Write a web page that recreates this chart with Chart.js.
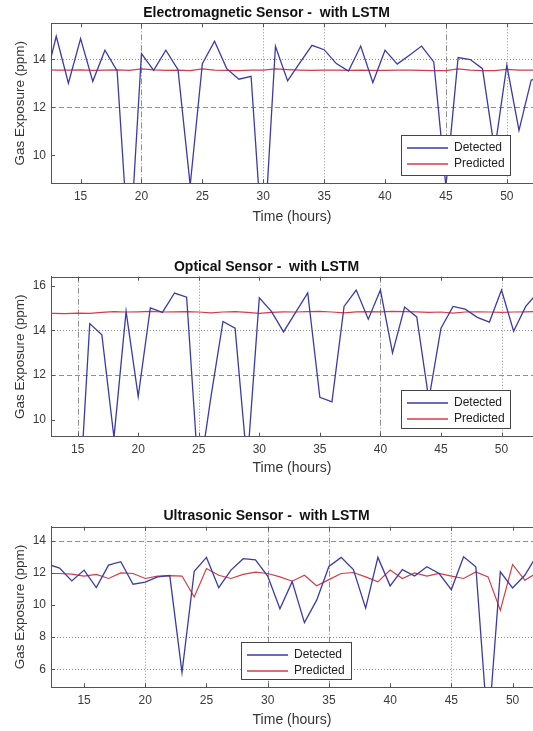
<!DOCTYPE html>
<html>
<head>
<meta charset="utf-8">
<title>Gas Exposure - with LSTM</title>
<script src="https://cdn.jsdelivr.net/npm/chart.js@4"></script>
<style>
  body { margin: 0; background: #fff; }
  .panel { position: absolute; left: 0; width: 533px; }
  canvas { display: block; }
</style>
</head>
<body>
<div class="panel" style="top:0;height:250px"><canvas id="em" width="533" height="250"></canvas></div>
<div class="panel" style="top:250px;height:250px"><canvas id="opt" width="533" height="250"></canvas></div>
<div class="panel" style="top:500px;height:231px"><canvas id="ultra" width="533" height="231"></canvas></div>
<script>
// hourly samples, 12 .. 53
const hours = [12, 13, 14, 15, 16, 17, 18, 19, 20, 21, 22, 23, 24, 25, 26, 27, 28, 29, 30, 31, 32,
  33, 34, 35, 36, 37, 38, 39, 40, 41, 42, 43, 44, 45, 46, 47, 48, 49, 50, 51, 52, 53];

const emDetected = [12.9, 14.96, 13.0, 14.86, 13.08, 14.38, 13.51, 5.7, 14.24, 13.54, 14.38, 13.57, 8.75, 13.82,
  14.75, 13.61, 13.17, 13.29, 5.8, 14.54, 13.1, 13.85, 14.58, 14.4, 13.82, 13.51, 14.55, 13.03, 14.38, 13.8,
  14.17, 14.55, 13.89, 8.7, 14.07, 13.99, 13.61, 10.2, 13.75, 11.04, 13.13, 13.3];
const emPredicted = [13.56, 13.55, 13.55, 13.56, 13.54, 13.55, 13.56, 13.54, 13.6, 13.56, 13.54, 13.55, 13.53, 13.6,
  13.55, 13.54, 13.53, 13.55, 13.55, 13.6, 13.57, 13.55, 13.54, 13.55, 13.55, 13.54, 13.55, 13.54, 13.54, 13.55,
  13.55, 13.54, 13.53, 13.53, 13.6, 13.55, 13.53, 13.53, 13.58, 13.55, 13.55, 13.56];

const optDetected = [7.5, 7.0, 6.5, 5.0, 14.3, 13.8, 9.2, 14.85, 11.04, 15.0, 14.8, 15.67, 15.48, 7.3,
  11.0, 14.4, 14.1, 8.0, 15.45, 14.85, 13.93, 14.8, 15.67, 11.0, 10.8, 15.07, 15.8, 14.5, 15.8, 12.99,
  15.04, 14.6, 10.9, 14.1, 15.07, 14.95, 14.58, 14.37, 15.8, 13.96, 15.07, 15.7];
const optPredicted = [14.78, 14.76, 14.75, 14.77, 14.76, 14.8, 14.84, 14.82, 14.83, 14.85, 14.82, 14.83, 14.84, 14.82,
  14.78, 14.82, 14.84, 14.8, 14.76, 14.8, 14.83, 14.82, 14.84, 14.85, 14.82, 14.78, 14.83, 14.84, 14.83, 14.85,
  14.84, 14.83, 14.8, 14.82, 14.77, 14.82, 14.83, 14.82, 14.8, 14.82, 14.83, 14.84];

const usDetected = [12.55, 12.3, 11.5, 12.17, 11.08, 12.48, 12.69, 11.29, 11.42, 11.75, 11.83, 5.81, 12.1, 12.96,
  11.08, 12.17, 12.88, 12.8, 11.8, 9.77, 11.45, 8.9, 10.3, 12.4, 12.96, 12.2, 9.8, 12.96, 11.19, 12.2,
  11.8, 12.38, 11.96, 10.96, 13.0, 12.38, 2.0, 12.06, 11.06, 11.85, 13.1, 13.0];
const usPredicted = [11.96, 11.96, 11.92, 11.8, 11.9, 11.65, 12.0, 11.96, 11.65, 11.8, 11.83, 11.8, 10.5, 12.27,
  11.85, 11.65, 11.9, 12.04, 11.96, 11.75, 11.48, 11.85, 11.2, 11.58, 11.96, 12.02, 11.75, 11.44, 12.17, 11.65,
  12.0, 11.8, 11.96, 11.8, 11.65, 12.06, 11.75, 9.67, 12.52, 11.54, 12.0, 12.0];

const FONT = '"Liberation Sans", Arial, sans-serif';
const dashes = { dot: [1, 2], dash: [5, 3], dashdot: [6, 2, 1, 2] };

// grid lines, inner ticks, top box edge and the boxed legend
const matlabAxes = {
  id: 'matlabAxes',
  beforeDatasetsDraw(chart, args, opts) {
    const { ctx, chartArea: a, scales: { x, y } } = chart;
    ctx.save();
    ctx.lineWidth = 1;
    ctx.strokeStyle = '#8f8f8f';
    for (const [v, s] of Object.entries(opts.gridX)) {
      const px = Math.round(x.getPixelForValue(+v)) + 0.5;
      ctx.setLineDash(dashes[s]);
      ctx.beginPath(); ctx.moveTo(px, a.top); ctx.lineTo(px, a.bottom); ctx.stroke();
    }
    for (const [v, s] of Object.entries(opts.gridY)) {
      const py = Math.round(y.getPixelForValue(+v)) + 0.5;
      ctx.setLineDash(dashes[s]);
      ctx.beginPath(); ctx.moveTo(a.left, py); ctx.lineTo(a.right, py); ctx.stroke();
    }
    ctx.restore();
  },
  afterDatasetsDraw(chart, args, opts) {
    const { ctx, chartArea: a, scales: { x, y } } = chart;
    ctx.save();
    ctx.strokeStyle = '#555';
    ctx.lineWidth = 1;
    ctx.beginPath();
    ctx.moveTo(a.left, Math.round(a.top) + 0.5); ctx.lineTo(a.right, Math.round(a.top) + 0.5);
    for (const t of x.ticks) {
      const px = Math.round(x.getPixelForValue(t.value)) + 0.5;
      ctx.moveTo(px, a.bottom); ctx.lineTo(px, a.bottom - 4);
      ctx.moveTo(px, a.top); ctx.lineTo(px, a.top + 4);
    }
    for (const t of y.ticks) {
      const py = Math.round(y.getPixelForValue(t.value)) + 0.5;
      ctx.moveTo(a.left, py); ctx.lineTo(a.left + 4, py);
    }
    ctx.stroke();

    const b = opts.legend;
    ctx.fillStyle = '#fff';
    ctx.fillRect(b.x, b.y, b.w, b.h);
    ctx.strokeStyle = '#444';
    ctx.strokeRect(b.x + 0.5, b.y + 0.5, b.w, b.h);
    ctx.font = '12px ' + FONT;
    ctx.textBaseline = 'middle';
    chart.data.datasets.forEach((ds, i) => {
      const ly = b.y + 13 + i * 16;
      ctx.strokeStyle = ds.borderColor;
      ctx.lineWidth = 1.3;
      ctx.beginPath(); ctx.moveTo(b.x + 6, ly); ctx.lineTo(b.x + 47, ly); ctx.stroke();
      ctx.fillStyle = '#222';
      ctx.fillText(ds.label, b.x + 53, ly);
    });
    ctx.restore();
  }
};

function makeChart(id, c) {
  const pts = arr => hours.map((h, i) => ({ x: h, y: arr[i] }));
  const H = document.getElementById(id).height;
  return new Chart(document.getElementById(id), {
    type: 'line',
    data: {
      datasets: [
        { label: 'Detected', data: pts(c.detected), borderColor: '#3a3aa8', borderWidth: 1.3, pointRadius: 0, tension: 0 },
        { label: 'Predicted', data: pts(c.predicted), borderColor: '#d43c46', borderWidth: 1.2, pointRadius: 0, tension: 0 }
      ]
    },
    options: {
      responsive: false,
      animation: false,
      devicePixelRatio: 1,
      layout: { padding: 0 },
      plugins: {
        legend: { display: false },
        tooltip: { enabled: false },
        title: {
          display: true, text: c.title, color: '#111',
          font: { family: FONT, size: 14, weight: 'bold' },
          padding: { top: c.titleTop, bottom: c.titleBottom }
        },
        matlabAxes: { gridX: c.gridX, gridY: c.gridY, legend: c.legend }
      },
      scales: {
        x: {
          type: 'linear', min: c.xMin, max: c.xMax,
          grid: { display: false, drawTicks: false, tickLength: 0 },
          border: { display: true, color: '#555' },
          ticks: { stepSize: 5, includeBounds: false, padding: 6, color: '#3a3a3a', font: { family: FONT, size: 12 } },
          title: { display: true, text: 'Time (hours)', color: '#333', font: { family: FONT, size: 14 }, padding: { top: 0, bottom: c.xTitleBottom } },
          afterFit: s => { s.height = H - c.areaBottom; }
        },
        y: {
          type: 'linear', min: c.yMin, max: c.yMax,
          grid: { display: false, drawTicks: false, tickLength: 0 },
          border: { display: true, color: '#555' },
          ticks: { stepSize: 2, includeBounds: false, padding: 5, color: '#3a3a3a', font: { family: FONT, size: 12 } },
          title: { display: true, text: 'Gas Exposure (ppm)', color: '#333', font: { family: FONT, size: 13.5 }, padding: { top: 12, bottom: 0 } },
          afterFit: s => { s.width = 51; }
        }
      }
    },
    plugins: [matlabAxes]
  });
}

makeChart('em', {
  title: 'Electromagnetic Sensor -  with LSTM',
  detected: emDetected, predicted: emPredicted,
  xMin: 12.57, xMax: 52.15, yMin: 8.83, yMax: 15.5,
  titleTop: 4.6, titleBottom: 1.9, areaBottom: 183.3, xTitleBottom: 24.6,
  gridX: { 20: 'dashdot', 30: 'dot', 35: 'dot', 45: 'dashdot', 50: 'dot' },
  gridY: { 14: 'dot', 12: 'dash' },
  legend: { x: 401, y: 135, w: 109, h: 40 }
});

makeChart('opt', {
  title: 'Optical Sensor -  with LSTM',
  detected: optDetected, predicted: optPredicted,
  xMin: 12.8, xMax: 52.6, yMin: 9.24, yMax: 16.4,
  titleTop: 8.3, titleBottom: 1.6, areaBottom: 186.7, xTitleBottom: 23.6,
  gridX: { 15: 'dashdot', 25: 'dot', 40: 'dashdot', 50: 'dot' },
  gridY: { 14: 'dot', 12: 'dash' },
  legend: { x: 401, y: 140, w: 109, h: 38 }
});

makeChart('ultra', {
  title: 'Ultrasonic Sensor -  with LSTM',
  detected: usDetected, predicted: usPredicted,
  xMin: 12.3, xMax: 51.67, yMin: 4.88, yMax: 14.87,
  titleTop: 7.6, titleBottom: 2.3, areaBottom: 187.3, xTitleBottom: 2.6,
  gridX: { 20: 'dot', 30: 'dashdot', 35: 'dashdot', 45: 'dot' },
  gridY: { 14: 'dash', 8: 'dot', 6: 'dot' },
  legend: { x: 241, y: 142, w: 110, h: 37 }
});
</script>
</body>
</html>
